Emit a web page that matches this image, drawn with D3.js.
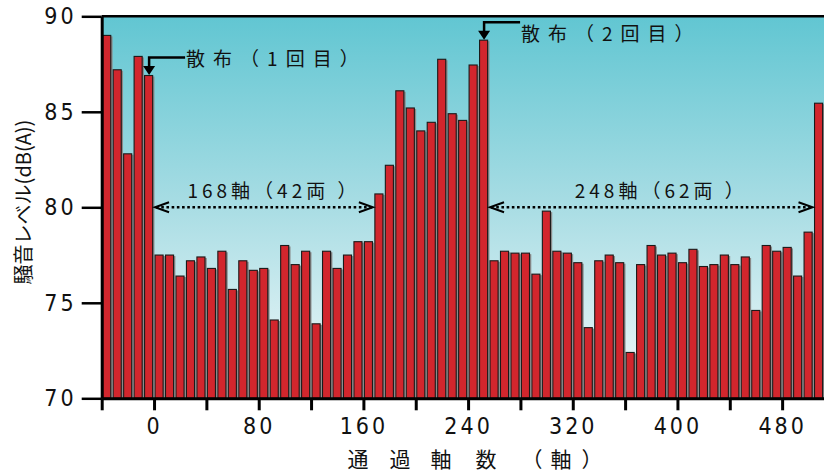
<!DOCTYPE html>
<html>
<head>
<meta charset="utf-8">
<script src="https://cdn.jsdelivr.net/npm/d3@7/dist/d3.min.js"></script>
<style>
    body { margin: 0; background: #fff; }
    svg { display: block; }
    .tick-label { font-family: "Liberation Sans Narrow", "DejaVu Sans Condensed", sans-serif; }
    .jp { font-family: "Noto Sans CJK JP", sans-serif; fill: #111; }
</style>
</head>
<body>
<svg id="chart" width="824" height="475"></svg>
<script>
// start axle of each bar (each bar = 8 axles)
const axleStart = [
    -40, -32, -24, -16, -8, 0, 8, 16, 24, 32, 40, 48, 56, 64, 72, 80, 88, 96, 104, 112,
    120, 128, 136, 144, 152, 160, 168, 176, 184, 192, 200, 208, 216, 224, 232, 240, 248,
    256, 264, 272, 280, 288, 296, 304, 312, 320, 328, 336, 344, 352, 360, 368, 376, 384,
    392, 400, 408, 416, 424, 432, 440, 448, 456, 464, 472, 480, 488, 496, 504
]

// noise level dB(A)
const noise = [
    89.0, 87.2, 82.8, 87.9, 86.9, 77.5, 77.5, 76.4, 77.2, 77.4, 76.8, 77.7, 75.7, 77.2, 76.7, 76.8, 74.1, 78.0, 77.0, 77.7,
    73.9, 77.7, 76.8, 77.5, 78.2, 78.2, 80.7, 82.2, 86.1, 85.2, 84.0, 84.45, 87.75, 84.9, 84.55, 87.45, 88.75,
    77.2, 77.7, 77.6, 77.6, 76.5, 79.8, 77.7, 77.6, 77.1, 73.7, 77.2, 77.5, 77.1, 72.4, 77.0, 78.0, 77.5,
    77.6, 77.1, 77.8, 76.9, 77.0, 77.5, 77.0, 77.4, 74.6, 78.0, 77.7, 77.9, 76.4, 78.7, 85.45
]

const xTickMarks = [-40, 0, 40, 80, 120, 160, 200, 240, 280, 320, 360, 400, 440, 480]
const xTickLabels = [0, 80, 160, 240, 320, 400, 480]
const yTicks = [70, 75, 80, 85, 90]

// 散布 markers: which bar they point to
const sprayBars = [4, 36]
const sprayLabels = ["散布（1回目）", "散布（2回目）"]

// spans between sprays
const spanFrom = [0, 256]
const spanTo = [168, 504]
const spanLabels = ["168軸（42両 ）", "248軸（62両 ）"]

const yLabel = "騒音レベル(dB(A))"
const xLabel = ["通", "過", "軸", "数", "（", "軸", "）"]

let svg = d3.select("#chart");
let width = 824, height = 475;
let margin = { top: 16.3, left: 101.7, bottom: 76.7 };

let x = d3.scaleLinear()
    .domain([-40, 512])
    .range([margin.left, width]);

let y = d3.scaleLinear()
    .domain([70, 90])
    .range([height - margin.bottom, margin.top]);

let defs = svg.append("defs");
let grad = defs.append("linearGradient")
    .attr("id", "bg")
    .attr("x1", 0).attr("y1", 0).attr("x2", 0).attr("y2", 1);
grad.append("stop").attr("offset", "0%").attr("stop-color", "#61c6d2");
grad.append("stop").attr("offset", "50%").attr("stop-color", "#a9dde4");
grad.append("stop").attr("offset", "100%").attr("stop-color", "#f2f9fa");

defs.append("clipPath").attr("id", "clip")
    .append("rect")
    .attr("x", x(-40)).attr("y", y(90))
    .attr("width", x(512) - x(-40)).attr("height", y(70) - y(90));

svg.append("rect")
    .attr("x", x(-40)).attr("y", y(90))
    .attr("width", x(512) - x(-40)).attr("height", y(70) - y(90))
    .attr("fill", "url(#bg)");

let plot = svg.append("g").attr("clip-path", "url(#clip)");

let step = x(8) - x(0);
let barW = step - 2.4;
let data = axleStart.map(function(a, i) { return { a: a, v: noise[i] }; });

// gray shadow behind each bar
plot.selectAll("rect.shadow")
    .data(data)
    .enter().append("rect")
    .attr("class", "shadow")
    .attr("x", function(d) { return x(d.a) + 1.0 + 1.8; })
    .attr("y", function(d) { return y(d.v) + 1; })
    .attr("width", barW)
    .attr("height", function(d) { return y(70) - y(d.v); })
    .attr("fill", "#8a8a8a");

plot.selectAll("rect.bar")
    .data(data)
    .enter().append("rect")
    .attr("class", "bar")
    .attr("x", function(d) { return x(d.a) + 1.0; })
    .attr("y", function(d) { return y(d.v); })
    .attr("width", barW)
    .attr("height", function(d) { return y(70) - y(d.v); })
    .attr("fill", "#d2262d")
    .attr("stroke", "#1a1a1a")
    .attr("stroke-width", 1.1);

// frame
svg.append("line")
    .attr("x1", x(-40)).attr("x2", width)
    .attr("y1", y(90)).attr("y2", y(90))
    .attr("stroke", "#000").attr("stroke-width", 2.5);

// y axis
let yAxis = d3.axisLeft(y).tickValues(yTicks).tickSize(20).tickSizeOuter(0).tickPadding(5);
let yGroup = svg.append("g").attr("transform", "translate(" + x(-40) + ",0)").call(yAxis);
yGroup.select(".domain").attr("stroke-width", 3);
yGroup.selectAll(".tick line").attr("stroke-width", 2.5);
yGroup.selectAll(".tick text")
    .attr("class", "tick-label")
    .attr("font-size", 23)
    .attr("letter-spacing", 3)
    .attr("fill", "#111");

// x axis
let xAxis = d3.axisBottom(x).tickValues(xTickMarks).tickSize(12).tickSizeOuter(0).tickPadding(7)
    .tickFormat(function(d) { return xTickLabels.includes(d) ? d : ""; });
let xGroup = svg.append("g").attr("transform", "translate(0," + y(70) + ")").call(xAxis);
xGroup.select(".domain").attr("stroke-width", 3);
xGroup.selectAll(".tick line").attr("stroke-width", 3);
xGroup.selectAll(".tick text")
    .attr("class", "tick-label")
    .attr("font-size", 23)
    .attr("letter-spacing", 3)
    .attr("fill", "#111");

// axis titles
svg.append("text")
    .attr("class", "jp")
    .attr("transform", "translate(22," + 202 + ") rotate(-90)")
    .attr("text-anchor", "middle")
    .attr("dominant-baseline", "central")
    .attr("font-size", 20)
    .text(yLabel);

let xTitlePos = [358, 400, 441, 486, 532, 561, 592];
svg.selectAll("text.xtitle")
    .data(xLabel)
    .enter().append("text")
    .attr("class", "jp xtitle")
    .attr("x", function(d, i) { return xTitlePos[i]; })
    .attr("y", 467)
    .attr("text-anchor", "middle")
    .attr("font-size", 21)
    .text(function(d) { return d; });

// spray markers
sprayBars.forEach(function(b, i) {
    let cx = x(axleStart[b] + 4) + 0.3;
    let top = y(noise[b]);
    let ly = top - 18;
    svg.append("path")
        .attr("d", "M" + (cx + 36) + "," + ly + "H" + cx + "V" + (top - 8))
        .attr("fill", "none")
        .attr("stroke", "#000")
        .attr("stroke-width", 2.5);
    svg.append("path")
        .attr("d", "M" + (cx - 6) + "," + (top - 9.5) + "L" + (cx + 6) + "," + (top - 9.5) + "L" + cx + "," + (top - 0.5) + "Z")
        .attr("fill", "#000");
    svg.append("text")
        .attr("class", "jp")
        .attr("x", cx + 37)
        .attr("y", ly + (i === 0 ? 0 : 10))
        .attr("dominant-baseline", "central")
        .attr("font-size", 19)
        .attr("letter-spacing", 8)
        .text(sprayLabels[i]);
});

// span arrows
spanFrom.forEach(function(s, i) {
    let x0 = x(s), x1 = x(spanTo[i]), yy = y(80);
    svg.append("line")
        .attr("x1", x0 + 2).attr("x2", x1 - 2)
        .attr("y1", yy).attr("y2", yy)
        .attr("stroke", "#000")
        .attr("stroke-width", 2.5)
        .attr("stroke-dasharray", "2.6,2.6");
    svg.append("path")
        .attr("d", "M" + (x0 + 15) + "," + (yy - 5) + "L" + (x0 + 1) + "," + yy + "L" + (x0 + 15) + "," + (yy + 5))
        .attr("fill", "none").attr("stroke", "#000").attr("stroke-width", 2);
    svg.append("path")
        .attr("d", "M" + (x1 - 15) + "," + (yy - 5) + "L" + (x1 - 1) + "," + yy + "L" + (x1 - 15) + "," + (yy + 5))
        .attr("fill", "none").attr("stroke", "#000").attr("stroke-width", 2);
    svg.append("text")
        .attr("class", "jp")
        .attr("x", (x0 + x1) / 2 + 10)
        .attr("y", yy - 18)
        .attr("text-anchor", "middle")
        .attr("dominant-baseline", "central")
        .attr("font-size", 19)
        .attr("letter-spacing", 4)
        .text(spanLabels[i]);
});
</script>
</body>
</html>
